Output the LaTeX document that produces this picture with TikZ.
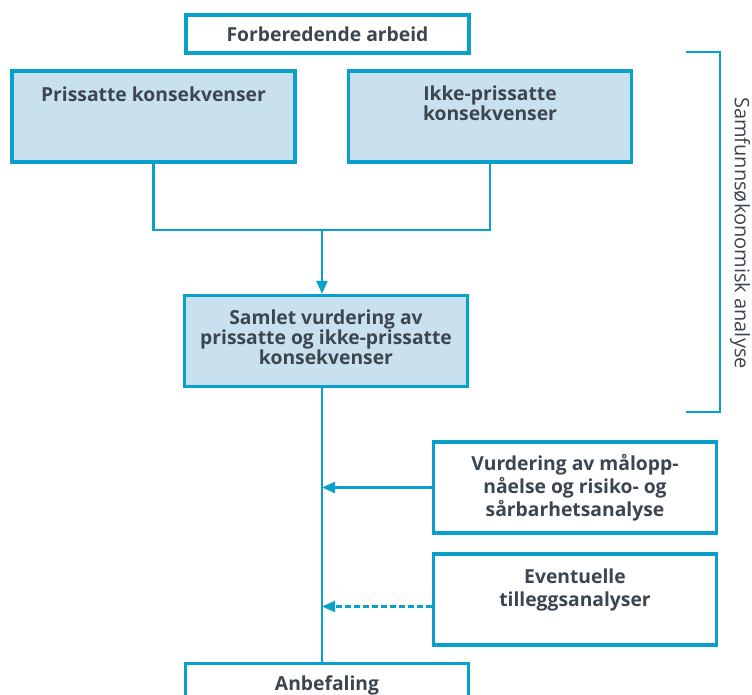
\documentclass[tikz,border=0pt]{standalone}
\usepackage{fontspec}
\setmainfont{Open Sans}
\usepackage{xcolor}
\usetikzlibrary{arrows.meta, positioning, calc}

\definecolor{lineblue}{HTML}{0AA0CC}
\definecolor{boxblue}{HTML}{C9E1EE}
\definecolor{textgrey}{HTML}{3C4650}

\tikzset{
    box/.style={draw=lineblue, line width=3.2pt, fill=white, minimum width=283pt, minimum height=91pt, inner sep=0pt},
    fillbox/.style={box, fill=boxblue},
    boxtext/.style={font=\bfseries\fontsize{19.3}{20}\selectfont, text=textgrey, align=center},
    link/.style={draw=lineblue, line width=2.2pt},
    arr/.style={link, -{Triangle[length=13pt,width=11pt]}}
}

\begin{document}
\begin{tikzpicture}[x=1pt, y=-1pt]
\path[use as bounding box, clip] (0,0) rectangle (752,695);

% Boxes
\node[box, minimum height=38pt, boxtext] (prep) at (327.5,34) {Forberedende arbeid};
\node[fillbox, label={[boxtext, anchor=north, yshift=-14pt]north:Prissatte konsekvenser}] (pris) at (153.5,116.5) {};
\node[fillbox, label={[boxtext, anchor=north, yshift=-13pt]north:Ikke-prissatte\\konsekvenser}] (ikke) at (490,116.5) {};
\node[fillbox, boxtext] (samlet) at (326,341) {Samlet vurdering av\\prissatte og ikke-prissatte\\konsekvenser\\[-12pt]};
\node[box, boxtext, font=\bfseries\fontsize{19.3}{23}\selectfont] (vurd) at (575,487.5) {Vurdering av målopp-\\nåelse og risiko- og\\sårbarhetsanalyse};
\node[box, label={[boxtext, anchor=north, font=\bfseries\fontsize{19.3}{23}\selectfont, yshift=-13pt]north:Eventuelle\\tilleggsanalyser}] (event) at (575,599.5) {};
\node[box, minimum height=50pt, anchor=north, boxtext, text depth=10pt] (anbef) at (327,662) {Anbefaling};

% Connectors
\coordinate (join) at (322,230);
\draw[link] (pris.south) |- (join) -| (ikke.south);
\draw[arr] (join) -- (join |- samlet.north);
\draw[link] (samlet.south -| join) -- (anbef.north -| join);
\draw[arr] (vurd.west) -- (vurd.west -| join);
\draw[arr, dashed, dash pattern=on 6pt off 3pt] ([yshift=-7pt]event.west) -- ([yshift=-7pt]event.west -| join);

% Bracket
\coordinate (brtop) at (686,52);
\coordinate (brbot) at (686,412);
\draw[link] (brtop) -- ++(34,0) coordinate (brtr) -- (brtr |- brbot) -- (brbot);
\node[rotate=-90, font=\fontsize{20}{22}\selectfont, text=textgrey] (analyse) at (740,233) {Samfunnsøkonomisk analyse};
\end{tikzpicture}
\end{document}
